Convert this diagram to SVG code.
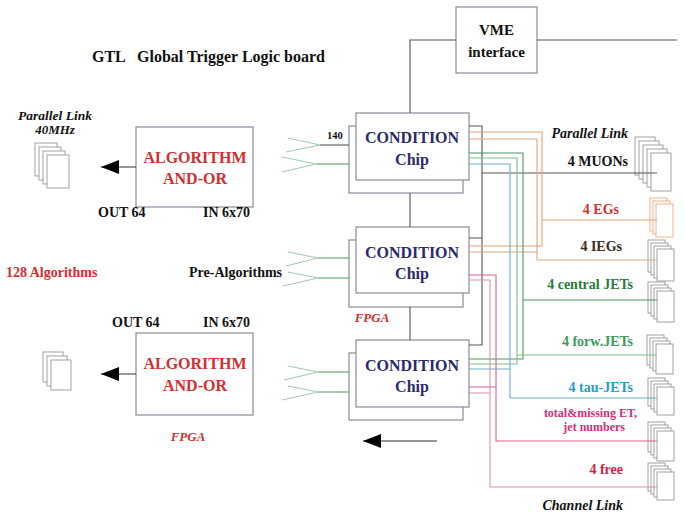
<svg xmlns="http://www.w3.org/2000/svg" width="685" height="516" viewBox="0 0 685 516">
<style>
text{font-family:"Liberation Serif","Times New Roman",serif;font-weight:bold;}
.box{fill:#fff;stroke:#8a8a9a;stroke-width:1.2;}
.pg{fill:#fff;stroke:#8a8a8a;stroke-width:0.8;}
.pgo{fill:#fff;stroke:#e8a070;stroke-width:0.8;}
.w{fill:none;stroke-width:1.1;}
.k{stroke:#555;}
.eg{stroke:#eea070;}
.ieg{stroke:#d8a888;}
.cj{stroke:#4a9a5a;}
.fj{stroke:#7cc08a;}
.tj{stroke:#6ab0c8;}
.tm{stroke:#d86090;}
.fr{stroke:#e090a8;}
.fa{stroke:#a8c8b0;}
.chip{fill:#2b2b6b;font-size:16px;text-anchor:middle;}
.alg{fill:#d03030;font-size:16px;text-anchor:middle;}
.lbl{font-size:14px;fill:#111;}
.it{font-style:italic;}
</style>
<defs>
<marker id="ah" markerWidth="18" markerHeight="14" refX="18" refY="7" orient="auto" markerUnits="userSpaceOnUse">
<path d="M0,0 L18,7 L0,14 Z" fill="#000"/>
</marker>
</defs>

<text x="92" y="62" font-size="16" fill="#111">GTL</text>
<text x="137" y="62" font-size="16" fill="#111">Global Trigger Logic board</text>

<g id="vme">
<rect class="box" x="456" y="7" width="81" height="66"/>
<text x="496.5" y="35" font-size="15" fill="#111" text-anchor="middle">VME</text>
<text x="496.5" y="57" font-size="15" fill="#111" text-anchor="middle">interface</text>
</g>

<g id="alg1">
<rect class="box" x="136" y="127" width="117" height="80"/>
<text class="alg" x="195" y="163">ALGORITHM</text>
<text class="alg" x="195" y="184">AND-OR</text>
</g>
<g id="alg2">
<rect class="box" x="136" y="333" width="117" height="82"/>
<text class="alg" x="195" y="369">ALGORITHM</text>
<text class="alg" x="195" y="391">AND-OR</text>
</g>

<g id="chip1">
<rect class="box" x="349" y="126" width="114" height="67"/>
<rect class="box" x="356" y="113" width="113" height="67"/>
<text class="chip" x="412" y="143">CONDITION</text>
<text class="chip" x="412" y="165">Chip</text>
</g>
<g id="chip2">
<rect class="box" x="349" y="240" width="114" height="67"/>
<rect class="box" x="356" y="227" width="113" height="66"/>
<text class="chip" x="412" y="258">CONDITION</text>
<text class="chip" x="412" y="279">Chip</text>
</g>
<g id="chip3">
<rect class="box" x="349" y="353" width="114" height="67"/>
<rect class="box" x="356" y="340" width="113" height="67"/>
<text class="chip" x="412" y="371">CONDITION</text>
<text class="chip" x="412" y="392">Chip</text>
</g>

<g id="link-left-top">
<rect class="pg" x="35" y="143" width="22" height="33"/>
<rect class="pg" x="39" y="147" width="22" height="33"/>
<rect class="pg" x="43" y="151" width="22" height="33"/>
<rect class="pg" x="47" y="155" width="22" height="33"/>
</g>
<g id="link-left-bottom">
<rect class="pg" x="43" y="352" width="20" height="30"/>
<rect class="pg" x="47" y="356" width="20" height="30"/>
<rect class="pg" x="51" y="360" width="20" height="30"/>
</g>

<g id="muons">
<rect class="pg" x="635" y="137" width="20" height="38"/>
<rect class="pg" x="639" y="141" width="20" height="38"/>
<rect class="pg" x="643" y="145" width="20" height="38"/>
<rect class="pg" x="647" y="149" width="20" height="38"/>
<rect class="pg" x="651" y="153" width="20" height="38"/>
</g>
<g id="egs">
<rect class="pgo" x="650" y="198" width="17" height="33"/>
<rect class="pgo" x="653" y="201" width="17" height="33"/>
<rect class="pgo" x="656" y="204" width="17" height="33"/>
</g>
<g id="iegs">
<rect class="pg" x="648" y="240" width="17" height="32"/>
<rect class="pg" x="651" y="243" width="17" height="32"/>
<rect class="pg" x="654" y="246" width="17" height="32"/>
<rect class="pg" x="657" y="249" width="17" height="32"/>
</g>
<g id="cjets">
<rect class="pg" x="648" y="282" width="17" height="31"/>
<rect class="pg" x="651" y="285" width="17" height="31"/>
<rect class="pg" x="654" y="288" width="17" height="31"/>
<rect class="pg" x="657" y="291" width="17" height="31"/>
</g>
<g id="fjets">
<rect class="pg" x="647" y="335" width="17" height="30"/>
<rect class="pg" x="650" y="338" width="17" height="30"/>
<rect class="pg" x="653" y="341" width="17" height="30"/>
<rect class="pg" x="656" y="344" width="17" height="30"/>
</g>
<g id="tjets">
<rect class="pg" x="648" y="378" width="17" height="28"/>
<rect class="pg" x="651" y="381" width="17" height="28"/>
<rect class="pg" x="654" y="384" width="17" height="28"/>
<rect class="pg" x="657" y="387" width="17" height="28"/>
</g>
<g id="totet">
<rect class="pg" x="648" y="422" width="17" height="30"/>
<rect class="pg" x="651" y="425" width="17" height="30"/>
<rect class="pg" x="654" y="428" width="17" height="30"/>
<rect class="pg" x="657" y="431" width="17" height="30"/>
</g>
<g id="free">
<rect class="pg" x="648" y="463" width="17" height="28"/>
<rect class="pg" x="651" y="466" width="17" height="28"/>
<rect class="pg" x="654" y="469" width="17" height="28"/>
<rect class="pg" x="657" y="472" width="17" height="28"/>
</g>

<g id="connectors">
<path class="w k" d="M456,40 H410 V113 M410,193 V227 M410,307 V340 M537,40 H677"/>
<line class="w" stroke="#333" x1="136" y1="167" x2="101" y2="167" marker-end="url(#ah)"/>
<line class="w" stroke="#333" x1="136" y1="374" x2="101" y2="374" marker-end="url(#ah)"/>
<line class="w" stroke="#333" x1="437" y1="441" x2="363" y2="441" marker-end="url(#ah)"/>
<path class="w fa" d="M288,138 L320,145 M286,152 L320,145 M282,157 L316,164 M282,172 L316,164"/>
<path class="w k" d="M320,145 H349"/>
<path class="w cj" d="M316,164 H349"/>
<path class="w fa" d="M288,252 L318,258 M286,266 L318,258 M288,272 L318,278 M283,286 L318,278"/>
<path class="w cj" d="M318,258 H349 M318,278 H349"/>
<path class="w fa" d="M288,366 L318,372 M284,380 L318,372 M288,386 L318,392 M282,400 L318,392"/>
<path class="w cj" d="M318,372 H349 M318,392 H349"/>
<path class="w k" d="M469,126 H482 V345 H469 M469,238 H482 M482,173 H657"/>
<path class="w eg" d="M469,132 H542 V246 H469 M542,220 H657"/>
<path class="w ieg" d="M469,139 H537 V260 H657 M469,252 H537"/>
<path class="w cj" d="M469,153 H523 V359 H469 M523,300 H657"/>
<path class="w fj" d="M469,158 H517 V364 H469 M517,355 H657"/>
<path class="w tj" d="M469,164 H510 V398 H657 M469,369 H510"/>
<path class="w tm" d="M469,275 H496 V441 H657 M469,387 H496"/>
<path class="w fr" d="M469,280 H490 V487 H657 M469,393 H490"/>
</g>

<text class="it" x="55" y="120" font-size="13.5" fill="#111" text-anchor="middle">Parallel Link</text>
<text class="it" x="55" y="134" font-size="13" fill="#111" text-anchor="middle">40MHz</text>
<text class="lbl" x="98" y="217">OUT 64</text>
<text class="lbl" x="203" y="217">IN 6x70</text>
<text class="lbl" x="6" y="277" style="fill:#d03030">128 Algorithms</text>
<text class="lbl" x="189" y="277">Pre-Algorithms</text>
<text class="lbl" x="112" y="327">OUT 64</text>
<text class="lbl" x="203" y="327">IN 6x70</text>
<text x="327" y="139" font-size="10.5" fill="#111">140</text>
<text class="it" x="372" y="322" font-size="13" fill="#d03030" text-anchor="middle">FPGA</text>
<text class="it" x="188" y="441" font-size="13" fill="#d03030" text-anchor="middle">FPGA</text>

<text class="lbl it" x="628" y="138" text-anchor="end">Parallel Link</text>
<text class="lbl" x="628" y="166" text-anchor="end">4 MUONs</text>
<text class="lbl" x="619" y="214" text-anchor="end" style="fill:#d03030">4 EGs</text>
<text class="lbl" x="622" y="251" text-anchor="end" style="fill:#3a2a1a">4 IEGs</text>
<text class="lbl" x="633" y="289" text-anchor="end" style="fill:#2a7a3a">4 central JETs</text>
<text class="lbl" x="633" y="346" text-anchor="end" style="fill:#3a9a5a">4 forw.JETs</text>
<text class="lbl" x="633" y="392" text-anchor="end" style="fill:#2a9ac8">4 tau-JETs</text>
<text x="637" y="417" font-size="12" text-anchor="end" fill="#d0307a">total&amp;missing ET,</text>
<text x="625" y="431" font-size="12" text-anchor="end" fill="#d0307a">jet numbers</text>
<text class="lbl" x="623" y="474" text-anchor="end" style="fill:#cc2244">4 free</text>
<text class="lbl it" x="623" y="510" text-anchor="end">Channel Link</text>
</svg>
